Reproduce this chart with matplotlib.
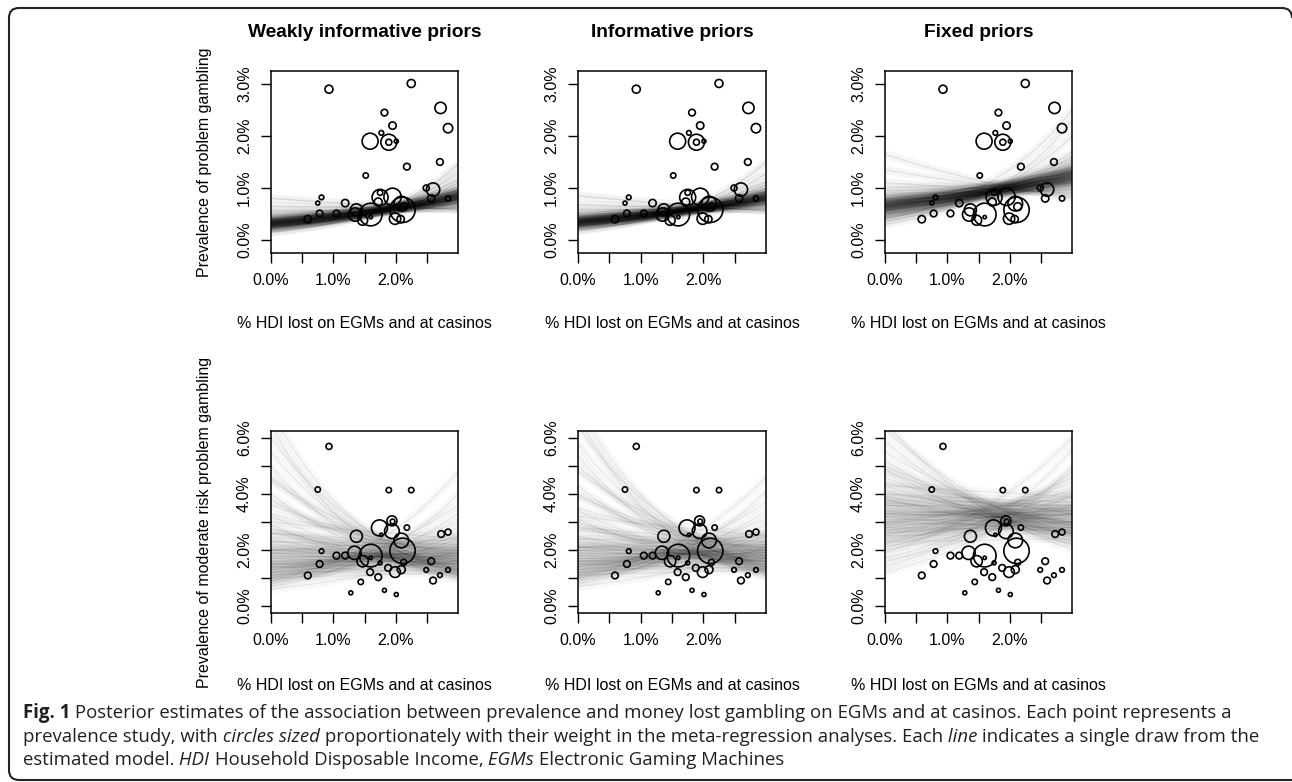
import numpy as np
import matplotlib
matplotlib.use("Agg")
import matplotlib.pyplot as plt
from matplotlib.patches import PathPatch
from matplotlib.path import Path
from matplotlib.transforms import IdentityTransform

plt.rcParams['font.family'] = ['Liberation Sans', 'DejaVu Sans']

W, H = 1292, 782

# ------------------------------------------------------------
# labels
TITLES = ["Weakly informative priors", "Informative priors", "Fixed priors"]
YLABELS = ["Prevalence of problem gambling",
           "Prevalence of moderate risk problem gambling"]
XLABEL = "% HDI lost on EGMs and at casinos"

X_TICKS = [0.0, 0.5, 1.0, 1.5, 2.0, 2.5]
X_TICKLABELS = ["0.0%", "", "1.0%", "", "2.0%", ""]
Y_TICKS_PG = [0, 1, 2, 3]
Y_TICKLABELS_PG = ["0.0%", "1.0%", "2.0%", "3.0%"]
Y_TICKS_MR = [0, 1, 2, 3, 4, 5, 6]
Y_TICKLABELS_MR = ["0.0%", "", "2.0%", "", "4.0%", "", "6.0%"]

# ------------------------------------------------------------
# studies (x = % HDI lost, y = prevalence %, w = relative weight)
PG_X = [0.93, 2.25, 2.72, 2.84, 1.82, 1.95, 1.77, 1.59, 1.89, 1.89, 2.01,
        2.18, 2.71, 1.52, 0.81, 0.75, 1.19, 0.78, 0.59, 1.05, 1.37, 1.35,
        1.47, 1.60, 1.60, 1.75, 1.75, 1.72, 1.95, 2.09, 2.13, 2.11, 1.99,
        2.08, 2.49, 2.60, 2.57, 2.84]
PG_Y = [2.90, 3.01, 2.54, 2.15, 2.45, 2.20, 2.06, 1.90, 1.88, 1.88, 1.90,
        1.41, 1.50, 1.24, 0.82, 0.71, 0.71, 0.51, 0.40, 0.51, 0.58, 0.49,
        0.38, 0.49, 0.44, 0.91, 0.82, 0.73, 0.83, 0.70, 0.64, 0.58, 0.41,
        0.40, 1.00, 0.97, 0.80, 0.80]
PG_W = [12, 12, 17, 14, 10, 11, 7, 24, 24, 9, 6,
        10, 10, 8, 7, 6, 11, 10, 11, 10, 18, 20,
        15, 34, 5, 8, 24, 12, 26, 22, 12, 38, 17,
        11, 9, 20, 11, 8]

MR_X = [0.93, 0.75, 1.89, 2.25, 1.94, 1.95, 1.74, 1.94, 2.18, 1.77, 1.37,
        2.09, 2.11, 1.60, 1.34, 1.47, 1.19, 1.05, 0.81, 0.78, 0.59, 1.60,
        1.75, 2.13, 1.88, 1.99, 2.09, 1.59, 1.72, 1.44, 1.28, 1.82, 2.01,
        2.73, 2.84, 2.57, 2.49, 2.60, 2.71, 2.84]
MR_Y = [5.70, 4.16, 4.14, 4.14, 3.04, 3.02, 2.79, 2.67, 2.80, 2.54, 2.49,
        2.34, 1.97, 1.80, 1.90, 1.60, 1.80, 1.80, 1.96, 1.50, 1.09, 1.72,
        1.54, 1.56, 1.36, 1.21, 1.30, 1.21, 1.03, 0.86, 0.47, 0.56, 0.41,
        2.57, 2.64, 1.60, 1.29, 0.91, 1.10, 1.29]
MR_W = [9, 8, 8, 8, 15, 7, 24, 22, 8, 5, 18,
        22, 38, 34, 20, 17, 10, 10, 7, 10, 10, 5,
        6, 9, 10, 16, 12, 10, 10, 8, 6, 6, 6,
        10, 9, 10, 7, 10, 7, 7]

# ------------------------------------------------------------
# posterior draws: (prevalence at 0% HDI, prevalence at 3% HDI)
DRAWS_PG_WEAK = [
    (0.30, 0.85), (0.32, 0.88), (0.26, 0.92), (0.36, 0.80), (0.38, 0.77),
    (0.31, 0.95), (0.25, 0.98), (0.33, 0.83), (0.35, 0.86), (0.28, 0.90),
    (0.40, 0.74), (0.24, 1.02), (0.32, 0.76), (0.37, 0.82), (0.29, 0.80),
    (0.34, 0.92), (0.43, 0.70), (0.21, 1.10), (0.46, 0.66), (0.22, 1.16),
    (0.41, 0.78), (0.25, 0.87), (0.39, 0.95), (0.27, 0.72), (0.55, 0.62),
    (0.17, 1.30), (0.65, 0.60), (0.15, 1.46), (0.80, 0.58), (0.50, 0.70),
    (0.30, 0.80), (0.27, 0.86), (0.35, 0.90), (0.33, 0.78), (0.29, 0.96),
    (0.36, 0.84), (0.31, 0.82), (0.38, 0.88), (0.26, 0.84), (0.34, 0.79)]
DRAWS_PG_INF = [
    (0.33, 0.82), (0.35, 0.85), (0.29, 0.89), (0.38, 0.78), (0.40, 0.75),
    (0.34, 0.92), (0.28, 0.95), (0.36, 0.80), (0.38, 0.83), (0.31, 0.87),
    (0.42, 0.72), (0.27, 0.99), (0.35, 0.74), (0.40, 0.79), (0.32, 0.77),
    (0.37, 0.89), (0.46, 0.68), (0.24, 1.06), (0.49, 0.64), (0.25, 1.12),
    (0.44, 0.76), (0.27, 0.85), (0.42, 0.92), (0.30, 0.70), (0.58, 0.60),
    (0.20, 1.28), (0.68, 0.58), (0.18, 1.50), (0.85, 0.56), (0.53, 0.68),
    (0.33, 0.79), (0.30, 0.84), (0.38, 0.87), (0.36, 0.76), (0.32, 0.93),
    (0.39, 0.81), (0.34, 0.80), (0.41, 0.85), (0.29, 0.82), (0.37, 0.77)]
DRAWS_PG_FIX = [
    (0.65, 1.25), (0.60, 1.30), (0.70, 1.18), (0.55, 1.38), (0.75, 1.12),
    (0.62, 1.22), (0.68, 1.32), (0.58, 1.20), (0.72, 1.28), (0.66, 1.15),
    (0.52, 1.45), (0.78, 1.05), (0.64, 1.35), (0.70, 1.24), (0.60, 1.10),
    (0.74, 1.40), (0.85, 1.00), (0.45, 1.60), (0.90, 0.95), (0.42, 1.70),
    (0.80, 1.30), (0.50, 1.15), (0.62, 1.55), (0.76, 0.98), (1.10, 0.90),
    (0.35, 2.00), (1.35, 0.85), (0.30, 2.30), (1.65, 0.80), (0.40, 2.50),
    (0.66, 1.20), (0.62, 1.28), (0.71, 1.30), (0.57, 1.25), (0.69, 1.10),
    (0.63, 1.18), (0.74, 1.22), (0.56, 1.33), (0.67, 1.38), (0.80, 1.15),
    (0.48, 1.50), (0.95, 1.08), (0.60, 1.18), (0.70, 1.35), (0.55, 1.15),
    (0.78, 1.30), (0.64, 1.26), (0.72, 1.16), (0.50, 1.28), (0.85, 1.20),
    (0.58, 1.42), (0.68, 1.05), (1.00, 1.10), (0.45, 1.35)]
DRAWS_MR_WEAK = [
    (1.8, 1.7), (1.6, 1.8), (2.0, 1.6), (1.7, 1.9), (1.9, 1.5), (1.5, 2.0),
    (2.2, 1.5), (1.4, 2.1), (1.8, 1.8), (2.1, 1.7), (1.6, 1.6), (2.4, 1.4),
    (1.3, 2.2), (1.9, 1.9), (1.7, 1.5), (2.0, 1.8), (2.8, 1.3), (1.1, 2.5),
    (3.2, 1.25), (1.0, 2.8), (2.6, 1.6), (1.2, 1.9), (2.3, 2.0), (1.5, 1.4),
    (4.0, 1.1), (0.8, 3.3), (5.0, 1.0), (0.7, 4.0), (6.5, 0.9), (0.9, 4.8),
    (3.6, 1.8), (4.6, 1.3), (5.5, 1.2), (4.5, 1.6), (3.8, 1.4), (6.0, 1.3),
    (3.3, 1.9), (2.9, 1.1), (7.0, 1.1), (2.6, 2.2), (1.2, 3.0), (1.0, 3.6),
    (0.9, 2.4), (1.3, 2.6), (0.6, 2.0), (1.4, 1.2), (1.1, 1.6), (2.0, 2.4),
    (2.3, 2.2), (1.4, 1.5), (2.6, 2.0), (1.2, 1.3), (2.0, 2.1), (1.5, 1.7),
    (3.0, 2.4), (1.0, 1.2)]
DRAWS_MR_INF = [
    (1.9, 1.8), (1.7, 1.9), (2.1, 1.7), (1.8, 2.0), (2.0, 1.6), (1.6, 2.1),
    (2.3, 1.6), (1.5, 2.2), (1.9, 1.9), (2.2, 1.8), (1.7, 1.7), (2.5, 1.5),
    (1.4, 2.3), (2.0, 2.0), (1.8, 1.6), (2.1, 1.9), (3.0, 1.4), (1.2, 2.6),
    (3.4, 1.3), (1.1, 2.9), (2.8, 1.7), (1.3, 2.0), (2.4, 2.1), (1.6, 1.5),
    (4.3, 1.2), (0.9, 3.4), (5.4, 1.1), (0.8, 4.1), (6.8, 1.0), (1.0, 4.6),
    (3.9, 1.9), (5.0, 1.4), (5.8, 1.3), (4.8, 1.7), (4.0, 1.5), (6.4, 1.4),
    (3.5, 2.0), (3.1, 1.2), (7.2, 1.2), (2.8, 2.3), (1.3, 3.1), (1.1, 3.7),
    (1.0, 2.5), (1.4, 2.7), (0.7, 2.1), (1.5, 1.3), (1.2, 1.7), (2.1, 2.5),
    (2.4, 2.3), (1.5, 1.6), (2.7, 2.1), (1.3, 1.4), (2.1, 2.2), (1.6, 1.8),
    (3.2, 2.5), (1.1, 1.3)]
DRAWS_MR_FIX = [
    (3.3, 3.1), (3.0, 3.3), (3.6, 2.9), (3.2, 3.4), (3.5, 3.0), (2.8, 3.5),
    (3.8, 2.8), (2.7, 3.6), (3.4, 3.2), (3.1, 3.0), (3.9, 3.0), (2.6, 3.3),
    (3.3, 3.5), (3.7, 3.2), (2.9, 3.0), (3.4, 2.7), (4.3, 2.6), (2.3, 3.9),
    (4.6, 2.5), (2.1, 4.2), (4.1, 3.0), (2.4, 3.3), (3.0, 3.9), (3.8, 2.6),
    (5.2, 2.3), (1.7, 4.8), (5.9, 2.2), (1.4, 5.6), (6.3, 2.4), (1.9, 6.0),
    (5.0, 2.8), (2.2, 4.6), (4.8, 2.9), (2.0, 3.6), (4.4, 3.3), (2.5, 4.4),
    (3.6, 3.6), (2.7, 2.8), (5.5, 2.6), (1.6, 4.0), (3.2, 2.6), (4.0, 3.4),
    (1.2, 5.0), (6.6, 2.0), (2.9, 4.1), (4.9, 2.2), (2.8, 2.7), (3.8, 3.6),
    (2.5, 2.6), (4.0, 3.7), (3.0, 2.8), (3.6, 3.4), (2.3, 2.4), (4.3, 3.9),
    (3.3, 3.3), (2.6, 3.0)]

CAPTION = [
    [("Fig. 1", "bold", "normal"),
     (" Posterior estimates of the association between prevalence and money "
      "lost gambling on EGMs and at casinos. Each point represents a",
      "normal", "normal")],
    [("prevalence study, with", "normal", "normal"),
     (" circles sized", "normal", "italic"),
     (" proportionately with their weight in the meta-regression analyses. Each",
      "normal", "normal"),
     (" line", "normal", "italic"),
     (" indicates a single draw from the", "normal", "normal")],
    [("estimated model.", "normal", "normal"),
     (" HDI", "normal", "italic"),
     (" Household Disposable Income,", "normal", "normal"),
     (" EGMs", "normal", "italic"),
     (" Electronic Gaming Machines", "normal", "normal")],
]
# ------------------------------------------------------------


def px_axes(fig, left, top, right, bottom):
    return fig.add_axes([left / W, 1 - bottom / H, (right - left) / W,
                         (bottom - top) / H])


def draw_panel(ax, draws, xs, ys, ws, yticks, yticklabels, ylim, alpha):
    xx = np.linspace(0, 3.0, 150)
    for left, right in draws:
        curve = left * (right / left) ** (xx / 3.0)
        # soft wide stroke + fine stroke, like many overlapping draws
        ax.plot(xx, curve, color="black", alpha=alpha * 0.4, lw=6,
                solid_capstyle="butt", zorder=1)
        ax.plot(xx, curve, color="black", alpha=alpha, lw=0.9,
                solid_capstyle="butt", zorder=1)
    sizes = [(0.48 * w) ** 2 for w in ws]
    ax.scatter(xs, ys, s=sizes, facecolors="none", edgecolors="black",
               linewidths=1.2, zorder=3)
    ax.set_xlim(0, 3.0)
    ax.set_ylim(*ylim)
    ax.set_xticks(X_TICKS)
    ax.set_xticklabels(X_TICKLABELS)
    ax.set_yticks(yticks)
    ax.set_yticklabels(yticklabels, rotation=90, va="center")
    ax.tick_params(axis="both", direction="out", length=7.2, width=1.0,
                   labelsize=11.5, color="black")
    ax.tick_params(axis="x", pad=7.5)
    ax.tick_params(axis="y", pad=6.5)
    for sp in ax.spines.values():
        sp.set_linewidth(1.1)


fig = plt.figure(figsize=(W / 100, H / 100), dpi=100)

cols = [(271, 458), (578, 766), (885, 1072)]
rows = [(71, 253), (431, 613)]

pg_draws = [DRAWS_PG_WEAK, DRAWS_PG_INF, DRAWS_PG_FIX]
mr_draws = [DRAWS_MR_WEAK, DRAWS_MR_INF, DRAWS_MR_FIX]
pg_alpha = [0.12, 0.12, 0.09]

for j, (l, r) in enumerate(cols):
    ax = px_axes(fig, l, rows[0][0], r, rows[0][1])
    draw_panel(ax, pg_draws[j], PG_X, PG_Y, PG_W, Y_TICKS_PG,
               Y_TICKLABELS_PG, (-0.25, 3.25), pg_alpha[j])
    ax.text(0.5, 1.214, TITLES[j], transform=ax.transAxes, ha="center",
            va="center", fontsize=13.8, fontweight="bold")
    ax.text(0.5, -0.385, XLABEL, transform=ax.transAxes, ha="center",
            va="center", fontsize=11.5)
    if j == 0:
        ax.text(-0.353, 0.5, YLABELS[0], transform=ax.transAxes,
                ha="center", va="center", rotation=90, fontsize=11.5)

    ax = px_axes(fig, l, rows[1][0], r, rows[1][1])
    draw_panel(ax, mr_draws[j], MR_X, MR_Y, MR_W, Y_TICKS_MR,
               Y_TICKLABELS_MR, (-0.25, 6.25), 0.07)
    ax.text(0.5, -0.396, XLABEL, transform=ax.transAxes, ha="center",
            va="center", fontsize=11.5)
    if j == 0:
        ax.text(-0.353, 0.5, YLABELS[1], transform=ax.transAxes,
                ha="center", va="center", rotation=90, fontsize=11.5)

# rounded frame: left, top and bottom edges; right edge falls off the picture
def fp(x, y):
    return (x, H - y)


verts = [fp(1292, 18), fp(1292, 8), fp(1282, 8), fp(19, 8), fp(9, 8),
         fp(9, 18), fp(9, 770), fp(9, 780), fp(19, 780), fp(1292, 780)]
codes = [Path.MOVETO, Path.CURVE3, Path.CURVE3, Path.LINETO, Path.CURVE3,
         Path.CURVE3, Path.LINETO, Path.CURVE3, Path.CURVE3, Path.LINETO]
frame = PathPatch(Path(verts, codes), transform=IdentityTransform(),
                  fill=False, edgecolor="#222222", linewidth=1.5)
fig.add_artist(frame)

# caption, fitted to the width of the first line
renderer = fig.canvas.get_renderer()
cap_font = ["Open Sans", "DejaVu Sans"]


def line_width(segments, size):
    total = 0
    for text, weight, style in segments:
        t = fig.text(0, 0, text, fontsize=size, fontweight=weight,
                     fontstyle=style, family=cap_font)
        total += t.get_window_extent(renderer).width
        t.remove()
    return total


base = 10.0
cap_size = base * 1210 / line_width(CAPTION[0], base)
line_y = [713, 737, 760]
for segments, y in zip(CAPTION, line_y):
    x = 23
    for text, weight, style in segments:
        t = fig.text(x / W, 1 - y / H, text, fontsize=cap_size,
                     fontweight=weight, fontstyle=style, family=cap_font,
                     ha="left", va="center", color="#231f20")
        x += t.get_window_extent(renderer).width

fig.savefig("out.png", dpi=100)
